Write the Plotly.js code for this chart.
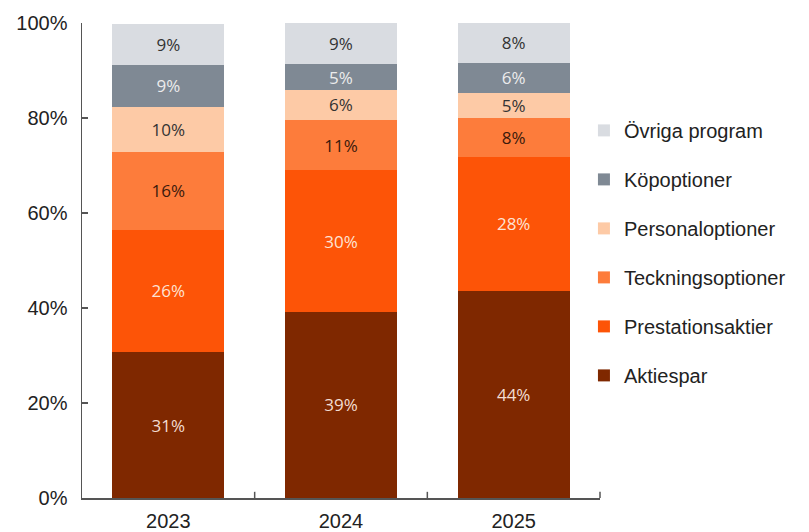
<!DOCTYPE html>
<html>
<head>
<meta charset="utf-8">
<script src="https://cdn.plot.ly/plotly-3.0.1.min.js"></script>
<style>html,body{margin:0;padding:0;background:#fff;}#chart{width:809px;height:532px;}</style>
</head>
<body>
<div id="chart"></div>
<script>
const years = ['2023', '2024', '2025'];
const aktiespar = [30.7, 39.2, 43.6];
const prestationsaktier = [25.8, 29.8, 28.2];
const teckningsoptioner = [16.3, 10.6, 8.3];
const personaloptioner = [9.6, 6.3, 5.2];
const kopoptioner = [8.7, 5.4, 6.3];
const ovrigaProgram = [8.7, 8.6, 8.4];
const yTicks = [0, 20, 40, 60, 80, 100];

const series = [
  {name: 'Aktiespar', y: aktiespar, color: '#7f2800', text: '#f3ddd2'},
  {name: 'Prestationsaktier', y: prestationsaktier, color: '#fd5407', text: '#fde3d4'},
  {name: 'Teckningsoptioner', y: teckningsoptioner, color: '#fd7c3b', text: '#3b1a0c'},
  {name: 'Personaloptioner', y: personaloptioner, color: '#fdcaa6', text: '#333333'},
  {name: 'Köpoptioner', y: kopoptioner, color: '#7f8994', text: '#ececec'},
  {name: 'Övriga program', y: ovrigaProgram, color: '#d9dce1', text: '#333333'}
];

const traces = series.map((s, i) => ({
  type: 'bar',
  name: s.name,
  x: years,
  y: s.y,
  legendgroup: 'g' + i,
  legendrank: 100 - i,
  marker: {color: s.color, line: {width: 0}},
  texttemplate: '%{y:.0f}%',
  textposition: 'inside',
  insidetextanchor: 'middle',
  constraintext: 'none',
  textangle: 0,
  textfont: {family: '"Open Sans", Lato, sans-serif', size: 17, color: s.text},
  hoverinfo: 'skip'
}));

const layout = {
  width: 809,
  height: 532,
  margin: {l: 82, r: 209, t: 23, b: 34},
  barmode: 'stack',
  bargap: 0.35,
  paper_bgcolor: '#ffffff',
  plot_bgcolor: '#ffffff',
  uniformtext: {mode: false},
  font: {family: '"Liberation Sans", Arial, sans-serif', size: 17, color: '#222222'},
  xaxis: {
    type: 'category',
    showline: true,
    linecolor: '#555555',
    linewidth: 1.5,
    ticks: '',
    showgrid: false,
    tickfont: {size: 20, color: '#222222'},
    ticklabelstandoff: 4,
    fixedrange: true
  },
  yaxis: {
    range: [0, 100],
    tickvals: yTicks,
    ticktext: yTicks.map(v => v + '%'),
    showline: true,
    linecolor: '#555555',
    linewidth: 1.5,
    ticks: 'inside',
    ticklen: 6,
    tickcolor: '#555555',
    tickwidth: 1.5,
    showgrid: false,
    zeroline: false,
    tickfont: {size: 20, color: '#222222'},
    ticklabelstandoff: 9,
    fixedrange: true
  },
  legend: {
    x: 0.969, xanchor: 'left', xref: 'paper',
    y: 0.516, yanchor: 'middle',
    traceorder: 'grouped',
    tracegroupgap: 20,
    font: {size: 20, color: '#222222'},
    itemclick: false,
    itemdoubleclick: false
  },
  shapes: [
    {type: 'line', xref: 'x domain', yref: 'y domain', x0: 1/3, x1: 1/3, y0: 0, y1: 0.013, line: {color: '#555555', width: 1.5}},
    {type: 'line', xref: 'x domain', yref: 'y domain', x0: 2/3, x1: 2/3, y0: 0, y1: 0.013, line: {color: '#555555', width: 1.5}},
    {type: 'line', xref: 'x domain', yref: 'y domain', x0: 1, x1: 1, y0: 0, y1: 0.013, line: {color: '#555555', width: 1.5}}
  ]
};

Plotly.newPlot('chart', traces, layout, {displayModeBar: false, staticPlot: true});
</script>
</body>
</html>
